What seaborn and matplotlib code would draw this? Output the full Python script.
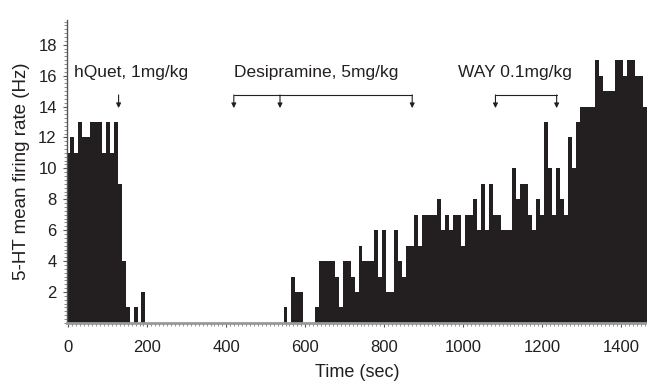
import numpy as np
import pandas as pd
import matplotlib
matplotlib.use("Agg")
import matplotlib.pyplot as plt
from matplotlib.ticker import MultipleLocator
import seaborn as sns

# 10 s bins, value = mean firing rate (Hz) in that bin
bin_width = 10
rates_start = [11, 12, 11, 13, 12, 12, 13, 13, 13, 11, 13, 11, 13, 9, 4, 1, 0, 1, 0, 2]   # 0 .. 190 s
rates_silent = [0] * 35                                                                # 200 .. 540 s
rates_desi = [1, 0, 3, 2, 2, 0, 0, 0, 1, 4, 4, 4, 4, 3, 1, 4, 4, 3, 2, 5,
              4, 4, 4, 6, 3, 6, 2, 2, 6, 4, 3, 5, 5, 7, 5, 7, 7, 7, 7, 8,
              6, 7, 6, 7, 7, 5, 7, 7, 8, 6, 9, 6, 9, 7]                                 # 550 .. 1080 s
rates_way = [7, 6, 6, 6, 10, 8, 9, 9, 7, 6, 8, 7, 13, 10, 7, 10, 8, 7, 12, 10,
             13, 14, 14, 14, 14, 17, 16, 15, 15, 15, 17, 17, 16, 17, 17, 16, 16, 14]    # 1090 .. 1460 s

rates = rates_start + rates_silent + rates_desi + rates_way
centers = np.arange(len(rates)) * bin_width

# drug injection times (s)
hquet_time = 127
desi_times = [419, 536, 871]
way_times = [1082, 1237]

df = pd.DataFrame({"time": centers, "rate": rates})

sns.set_theme(style="ticks")
plt.rcParams["font.family"] = ["Liberation Sans", "DejaVu Sans"]

ink = "#231f20"
fig = plt.figure(figsize=(6.47, 3.84), dpi=100)
ax = fig.add_axes([0.1028, 0.159, 0.8972, 0.789])

sns.histplot(data=df, x="time", weights="rate", binwidth=bin_width,
             binrange=(-bin_width / 2, centers[-1] + bin_width / 2),
             element="step", fill=True, color=ink, alpha=1, linewidth=0, ax=ax)

ax.set_xlim(-5, 1466)
ax.set_ylim(0, 19.6)
ax.set_xticks(range(0, 1401, 200))
ax.set_yticks(range(2, 19, 2))
ax.xaxis.set_minor_locator(MultipleLocator(10))
ax.yaxis.set_minor_locator(MultipleLocator(0.25))
ax.tick_params(axis="both", which="major", labelsize=12, length=3, width=0.8,
               colors="#555555", labelcolor=ink)
ax.tick_params(axis="x", which="major", pad=9)
ax.tick_params(axis="y", which="major", pad=4)
ax.tick_params(axis="both", which="minor", length=2, width=0.6, colors="#777777")
ax.set_xlabel("Time (sec)", fontsize=13, color=ink, labelpad=7)
ax.set_ylabel("5-HT mean firing rate (Hz)", fontsize=13.5, color=ink, labelpad=6)

sns.despine(ax=ax)
ax.spines["left"].set_color("#555555")
ax.spines["left"].set_linewidth(1.0)
ax.spines["bottom"].set_color("#9a9a9a")
ax.spines["bottom"].set_linewidth(2.0)

# annotations
arrow_kw = dict(arrowstyle="-|>", color=ink, lw=0.8, mutation_scale=7,
                shrinkA=0, shrinkB=0)
text_y = 16.2
ax.text(13, text_y, "hQuet, 1mg/kg", fontsize=12.5, color=ink, va="center")
ax.annotate("", xy=(hquet_time, 13.9), xytext=(hquet_time, 14.75), arrowprops=arrow_kw)

ax.text(419, text_y, "Desipramine, 5mg/kg", fontsize=12.5, color=ink, va="center")
ax.plot([desi_times[0], desi_times[-1]], [14.75, 14.75], color=ink, lw=0.8)
for t in desi_times:
    ax.annotate("", xy=(t, 13.9), xytext=(t, 14.75), arrowprops=arrow_kw)

ax.text(988, text_y, "WAY 0.1mg/kg", fontsize=12.5, color=ink, va="center")
ax.plot([way_times[0], way_times[-1]], [14.75, 14.75], color=ink, lw=0.8)
for t in way_times:
    ax.annotate("", xy=(t, 13.9), xytext=(t, 14.75), arrowprops=arrow_kw)

fig.savefig("out.png", dpi=100)
